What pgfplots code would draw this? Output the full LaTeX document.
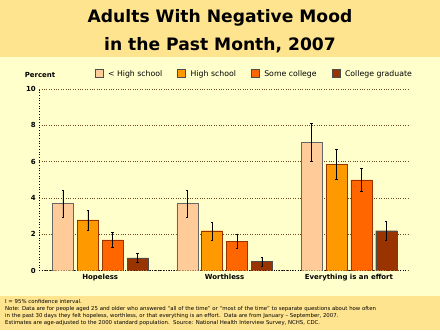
\documentclass[border=0pt]{standalone}
\usepackage{pgfplots}
\pgfplotsset{compat=1.18}
\usepackage{fontspec}
\setmainfont{DejaVu Sans}
\definecolor{bgLight}{HTML}{FFFFCC}
\definecolor{band}{HTML}{FFE48F}
\definecolor{cA}{HTML}{FFCC99}
\definecolor{cB}{HTML}{FF9900}
\definecolor{cC}{HTML}{FF6600}
\definecolor{cD}{HTML}{993300}
\begin{document}
\begin{tikzpicture}[x=1bp,y=1bp]
\fill[bgLight] (0,0) rectangle (440,330);
\fill[band] (0,273) rectangle (440,330);
\fill[band] (0,0) rectangle (440,34);
\node[font=\bfseries\fontsize{17.2}{19}\selectfont] at (220,312) {Adults With Negative Mood};
\node[font=\bfseries\fontsize{17.2}{19}\selectfont] at (220,285) {in the Past Month, 2007};
\node[font=\bfseries\fontsize{7}{8}\selectfont] at (40,255) {Percent};
\node[font=\fontsize{5.4}{7}\selectfont, anchor=north west, align=left, inner sep=0pt] at (5,31) {%
I = 95\% confidence interval.\\
Note: Data are for people aged 25 and older who answered ``all of the time'' or ``most of the time'' to separate questions about how often\\
in the past 30 days they felt hopeless, worthless, or that everything is an effort.\ \ Data are from January -- September, 2007.\\
Estimates are age-adjusted to the 2000 standard population.\ \ Source: National Health Interview Survey, NCHS, CDC.};
\begin{axis}[
  at={(39.3bp,59.3bp)}, anchor=south west,
  scale only axis, width=368.7bp, height=181.7bp,
  xmin=-0.49, xmax=2.475, ymin=0, ymax=10,
  xtick={0,1,2},
  xticklabels={Hopeless,Worthless,Everything is an effort},
  ytick={0,2,4,6,8,10},
  axis x line*=bottom, axis y line*=left,
  axis line style={black, dotted, line width=0.7bp, -},
  ymajorgrids,
  grid style={dotted, brown!60!black, line width=0.6bp},
  major tick length=0pt,
  /pgf/number format/assume math mode=true,
  tick label style={font=\bfseries\fontsize{7}{8}\selectfont, black},
  ybar, bar width=0.169,
  error bars/y dir=both, error bars/y explicit,
  error bars/error bar style={black, line width=0.5bp},
  error bars/error mark options={black, rotate=90, mark size=1.2bp, line width=0.5bp},
  legend columns=4,
  legend style={at={(0.583,1)}, anchor=center, yshift=15bp, draw=none, fill=none,
    font=\fontsize{7.8}{8}\selectfont,
    /tikz/every odd column/.append style={column sep=3bp},
    /tikz/every even column/.append style={column sep=13bp}},
  legend image code/.code={\draw[#1, draw=black!70, line width=0.4bp] (0bp,-3.5bp) rectangle (8bp,4.5bp);},
]
\addplot[fill=cA, draw=black!60, line width=0.4bp, bar shift=-0.3] coordinates {
  (0,3.7) += (0,0.74) -= (0,0.76)
  (1,3.7) += (0,0.74) -= (0,0.76)
  (2,7.05) += (0,1.05) -= (0,1.0)
};
\addplot[fill=cB, draw=cD, line width=0.4bp, bar shift=-0.1] coordinates {
  (0,2.8) += (0,0.52) -= (0,0.6)
  (1,2.2) += (0,0.46) -= (0,0.53)
  (2,5.85) += (0,0.83) -= (0,0.79)
};
\addplot[fill=cC, draw=cD, line width=0.4bp, bar shift=0.1] coordinates {
  (0,1.7) += (0,0.41) -= (0,0.43)
  (1,1.6) += (0,0.4) -= (0,0.37)
  (2,5.0) += (0,0.63) -= (0,0.63)
};
\addplot[fill=cD, draw=black!70, line width=0.4bp, bar shift=0.3] coordinates {
  (0,0.7) += (0,0.25) -= (0,0.26)
  (1,0.5) += (0,0.23) -= (0,0.24)
  (2,2.2) += (0,0.52) -= (0,0.53)
};
\legend{< High school, High school, Some college, College graduate}
\end{axis}
\end{tikzpicture}
\end{document}
